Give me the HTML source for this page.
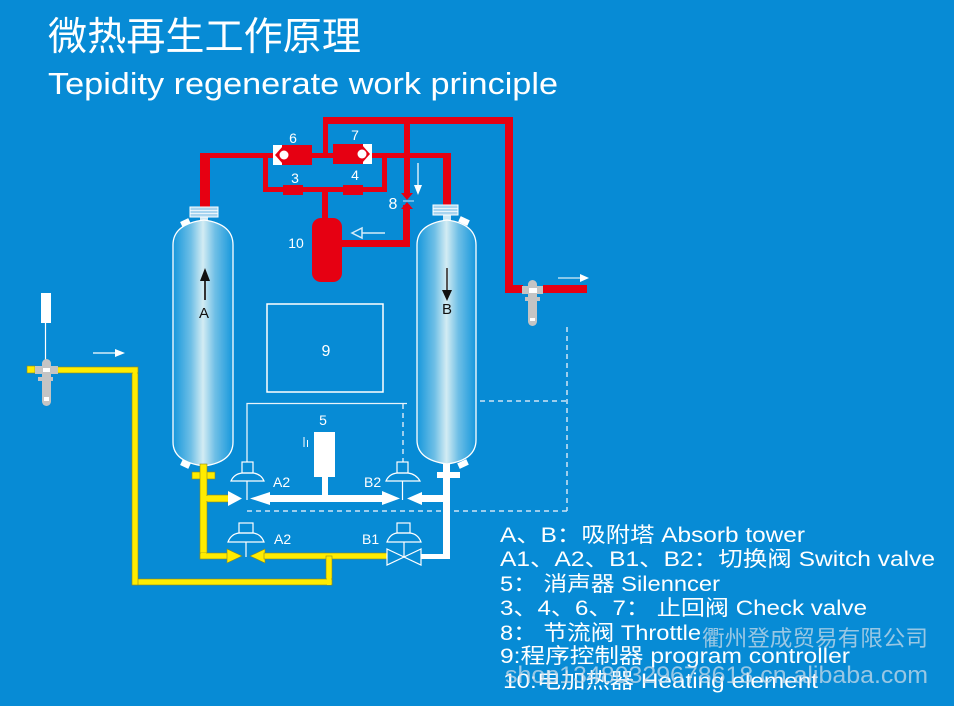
<!DOCTYPE html>
<html><head><meta charset="utf-8">
<style>
html,body{margin:0;padding:0;background:#078bd5;}
svg{display:block;}
text{font-family:"Liberation Sans","Noto Sans CJK SC",sans-serif;}
</style></head>
<body>
<svg width="954" height="706" viewBox="0 0 954 706" xmlns="http://www.w3.org/2000/svg">
<defs>
<linearGradient id="tg" x1="0" y1="0" x2="1" y2="0">
<stop offset="0" stop-color="#1597dc"/>
<stop offset="0.3" stop-color="#6fbfe6"/>
<stop offset="0.5" stop-color="#d3ecf3"/>
<stop offset="0.7" stop-color="#6fbfe6"/>
<stop offset="1" stop-color="#1597dc"/>
</linearGradient>
</defs>
<rect width="954" height="706" fill="#078bd5"/>

<!-- Titles -->
<text x="48" y="50" font-size="39" fill="#fff" textLength="313" lengthAdjust="spacingAndGlyphs">微热再生工作原理</text>
<text x="48" y="94" font-size="31" fill="#fff" textLength="510" lengthAdjust="spacingAndGlyphs">Tepidity regenerate work principle</text>

<!-- Dashed lines -->
<g stroke="#cfe5f5" stroke-width="1.5" stroke-dasharray="5,4" fill="none">
<line x1="247" y1="511" x2="567" y2="511"/>
<line x1="567" y1="327" x2="567" y2="511"/>
<line x1="480" y1="401" x2="567" y2="401"/>
<line x1="403" y1="404" x2="403" y2="462"/>
</g>
<!-- thin white control line -->
<polyline points="247,462 247,403.5 407,403.5" stroke="#e8f4fb" stroke-width="1.3" fill="none"/>

<!-- Controller box 9 -->
<rect x="267" y="304" width="116" height="88" fill="none" stroke="#fff" stroke-width="1.5"/>
<text x="326" y="356" font-size="16" fill="#fff" text-anchor="middle">9</text>

<!-- RED PIPES -->
<g fill="#e60012">
<!-- left riser to tower A -->
<rect x="200" y="153" width="10" height="55"/>
<rect x="200" y="153" width="75" height="5"/>
<!-- between 6 and 7 -->
<rect x="310" y="153" width="25" height="5"/>
<!-- up to top loop -->
<rect x="323" y="118" width="5" height="38"/>
<rect x="323" y="117" width="190" height="7"/>
<rect x="505" y="117" width="8" height="176"/>
<rect x="505" y="285" width="18" height="8"/>
<rect x="543" y="285" width="44" height="8"/>
<!-- right from 7 to tower B -->
<rect x="370" y="153" width="81" height="5"/>
<rect x="443" y="153" width="8" height="53"/>
<!-- inner loop -->
<rect x="263" y="153" width="5" height="39"/>
<rect x="263" y="187" width="124" height="5"/>
<rect x="382" y="153" width="5" height="39"/>
<!-- down from top to throttle -->
<rect x="404" y="120" width="6" height="75"/>
<!-- heater pipe -->
<rect x="322" y="190" width="6" height="30"/>
<rect x="340" y="240" width="70" height="7"/>
<rect x="403" y="205" width="7" height="42"/>
<!-- heater body -->
<rect x="312" y="218" width="30" height="64" rx="9" ry="9"/>
<!-- check valves 3,4 -->
<rect x="283" y="185" width="20" height="10"/>
<rect x="343" y="185" width="20" height="10"/>
<!-- throttle arrows -->
<polygon points="401,193 413,193 407,200"/>
<polygon points="401,209 413,209 407,202"/>
<!-- valve 6 -->
<rect x="273" y="145" width="39" height="20"/>
<!-- valve 7 -->
<rect x="333" y="144" width="39" height="20"/>
</g>
<!-- valve 6 details -->
<rect x="273" y="145" width="9" height="20" fill="#fff"/>
<polygon points="283,146 283,164 275,155" fill="#e60012"/>
<circle cx="284" cy="155" r="4.5" fill="#fff"/>
<!-- valve 7 details -->
<rect x="363" y="144" width="9" height="20" fill="#fff"/>
<polygon points="362,145 362,163 370,154" fill="#e60012"/>
<circle cx="362" cy="154" r="4.5" fill="#fff"/>
<!-- throttle line -->
<line x1="403" y1="201" x2="414" y2="201" stroke="#8fc8ec" stroke-width="1.5"/>

<!-- red labels -->
<g fill="#fff" font-size="14" text-anchor="middle">
<text x="293" y="143">6</text>
<text x="355" y="140">7</text>
<text x="295" y="183">3</text>
<text x="355" y="180">4</text>
<text x="393" y="209" font-size="16">8</text>
<text x="296" y="248">10</text>
</g>
<!-- hollow left arrow near heater -->
<line x1="362" y1="233" x2="385" y2="233" stroke="#d6ecf8" stroke-width="1.5"/>
<polygon points="352,233 362,228 362,238" fill="none" stroke="#d6ecf8" stroke-width="1.5"/>
<!-- down arrow near 8 -->
<line x1="418" y1="163" x2="418" y2="185" stroke="#d6ecf8" stroke-width="1.5"/>
<polygon points="414,185 422,185 418,195" fill="#fff"/>

<!-- TOWER A -->
<rect x="200" y="215" width="8" height="9" fill="#cfe9f5"/>
<rect x="190" y="207" width="28" height="10" fill="#a8d4ef" stroke="#fff" stroke-width="1"/>
<line x1="190" y1="210.5" x2="218" y2="210.5" stroke="#fff" stroke-width="0.8"/>
<line x1="190" y1="213.5" x2="218" y2="213.5" stroke="#fff" stroke-width="0.8"/>
<rect x="181" y="220" width="9" height="6" fill="#fff" transform="rotate(-25 185 223)"/>
<rect x="181" y="461" width="9" height="6" fill="#fff" transform="rotate(25 185 464)"/>
<path d="M173,245 Q173,224 204,220 Q233,224 233,245 V442 Q233,462 204,466 Q173,462 173,442 Z" fill="url(#tg)" stroke="#fff" stroke-width="1.3"/>
<line x1="205" y1="279" x2="205" y2="300" stroke="#333" stroke-width="2"/>
<polygon points="205,268 200,281 210,281" fill="#111"/>
<text x="204" y="318" font-size="15" fill="#111" text-anchor="middle">A</text>

<!-- TOWER B -->
<rect x="443" y="213" width="8" height="10" fill="#cfe9f5"/>
<rect x="433" y="205" width="25" height="10" fill="#a8d4ef" stroke="#fff" stroke-width="1"/>
<line x1="433" y1="208.5" x2="458" y2="208.5" stroke="#fff" stroke-width="0.8"/>
<line x1="433" y1="211.5" x2="458" y2="211.5" stroke="#fff" stroke-width="0.8"/>
<rect x="459" y="218" width="10" height="6" fill="#fff" transform="rotate(25 464 221)"/>
<rect x="458" y="461" width="10" height="6" fill="#fff" transform="rotate(-25 463 464)"/>
<path d="M417,245 Q417,224 447,220 Q476,224 476,245 V440 Q476,460 447,464 Q417,460 417,440 Z" fill="url(#tg)" stroke="#fff" stroke-width="1.3"/>
<line x1="447" y1="268" x2="447" y2="292" stroke="#555" stroke-width="2"/>
<polygon points="442,290 452,290 447,301" fill="#111"/>
<text x="447" y="314" font-size="15" fill="#111" text-anchor="middle">B</text>

<!-- WHITE pipes (right side) -->
<g fill="#fff">
<rect x="437" y="472" width="23" height="6"/>
<rect x="443" y="464" width="7" height="95"/>
<rect x="420" y="495" width="28" height="7"/>
<rect x="421" y="554" width="29" height="5"/>
<rect x="268" y="495" width="116" height="7"/>
<polygon points="250,498.5 270,492 270,505"/>
<polygon points="400,498.5 382,491 382,505"/>
<polygon points="407,498.5 422,492 422,505"/>
<!-- silencer -->
<rect x="314" y="432" width="21" height="45"/>
<rect x="322" y="476" width="6" height="22"/>
</g>
<line x1="304" y1="437" x2="304" y2="447" stroke="#fff" stroke-width="1"/>
<line x1="307.5" y1="440" x2="307.5" y2="447" stroke="#fff" stroke-width="1"/>
<text x="323" y="425" font-size="14" fill="#fff" text-anchor="middle">5</text>

<!-- YELLOW pipes -->
<g fill="#ffec00" stroke="#8a8a20" stroke-width="0.6">
<rect x="192" y="472" width="23" height="7"/>
<rect x="200" y="464" width="7" height="95"/>
<rect x="207" y="495" width="22" height="7"/>
<rect x="200" y="553" width="28" height="6"/>
<polygon points="242,556 227,549 227,563"/>
<polygon points="250,556 265,549 265,563"/>
<rect x="264" y="553" width="123" height="6"/>
<rect x="326" y="556" width="6" height="29"/>
<rect x="132" y="579" width="200" height="6"/>
<rect x="132" y="367" width="6" height="218"/>
<rect x="56" y="367" width="82" height="6"/>
<rect x="27" y="366" width="8" height="7"/>
</g>
<polygon points="242,498.5 228,491 228,506" fill="#fff"/>
<rect x="201" y="553" width="5" height="5" fill="#ffec00"/>
<rect x="201" y="496" width="12" height="5" fill="#ffec00"/>
<rect x="327" y="578" width="4" height="7" fill="#ffec00"/>
<rect x="133" y="368" width="4" height="12" fill="#ffec00"/>

<!-- Valves (outline) -->
<g stroke="#fff" stroke-width="1.2" fill="none">
<!-- A2 top -->
<rect x="242" y="462" width="11" height="11"/>
<path d="M231,481 Q234,474 242,473 L253,473 Q261,474 264,481 Z"/>
<line x1="247" y1="481" x2="247" y2="500"/>
<!-- B2 -->
<rect x="397" y="462" width="11" height="11"/>
<path d="M386,481 Q389,474 397,473 L408,473 Q416,474 420,481 Z"/>
<line x1="402.5" y1="481" x2="402.5" y2="500"/>
<!-- A2 lower -->
<rect x="239" y="523" width="14" height="10"/>
<path d="M228,542 Q231,534 239,533 L253,533 Q261,534 264,542 Z"/>
<line x1="246" y1="542" x2="246" y2="557"/>
<!-- B1 -->
<rect x="397" y="523" width="13" height="10"/>
<path d="M387,542 Q390,534 397,533 L410,533 Q418,534 421,542 Z"/>
<line x1="404" y1="542" x2="404" y2="557"/>
<path d="M387,549 L404,557 L387,565 Z"/>
<path d="M421,549 L404,557 L421,565 Z"/>
</g>
<g fill="#fff" font-size="14">
<text x="273" y="487">A2</text>
<text x="364" y="487">B2</text>
<text x="274" y="544">A2</text>
<text x="362" y="544">B1</text>
</g>

<!-- left gray filter -->
<rect x="41" y="293" width="10" height="30" fill="#fff"/>
<line x1="45.5" y1="323" x2="45.5" y2="362" stroke="#fff" stroke-width="1.2"/>
<g fill="#c4c4c4">
<rect x="42" y="359" width="9" height="47" rx="4.5"/>
<rect x="35" y="366" width="23" height="8"/>
<rect x="38" y="377" width="15" height="4"/>
</g>
<rect x="43" y="368" width="7" height="4" fill="#fff"/>
<rect x="44" y="397" width="5" height="4" fill="#fff"/>
<!-- left arrow -->
<line x1="93" y1="353" x2="116" y2="353" stroke="#fff" stroke-width="1.3"/>
<polygon points="115,349 125,353 115,357" fill="#fff"/>

<!-- right gray filter -->
<g fill="#c4c4c4">
<rect x="528" y="280" width="9" height="46" rx="4.5"/>
<rect x="522" y="286" width="21" height="8"/>
<rect x="525" y="297" width="15" height="4"/>
</g>
<rect x="529" y="288" width="8" height="5" fill="#fff"/>
<rect x="530" y="318" width="5" height="3" fill="#fff"/>
<!-- right arrow -->
<line x1="558" y1="278" x2="581" y2="278" stroke="#d6ecf8" stroke-width="1.3"/>
<polygon points="580,274 589,278 580,282" fill="#fff"/>

<!-- Legend -->
<g fill="#fff" font-size="21">
<text x="500" y="542" textLength="305" lengthAdjust="spacingAndGlyphs">A、B：吸附塔 Absorb tower</text>
<text x="500" y="566" textLength="435" lengthAdjust="spacingAndGlyphs">A1、A2、B1、B2：切换阀 Switch valve</text>
<text x="500" y="591" textLength="220" lengthAdjust="spacingAndGlyphs">5： 消声器 Silenncer</text>
<text x="500" y="615" textLength="367" lengthAdjust="spacingAndGlyphs">3、4、6、7： 止回阀 Check valve</text>
<text x="500" y="640" textLength="201" lengthAdjust="spacingAndGlyphs">8： 节流阀 Throttle</text>
<text x="500" y="663" textLength="350" lengthAdjust="spacingAndGlyphs">9:程序控制器 program controller</text>
<text x="503" y="688" textLength="315" lengthAdjust="spacingAndGlyphs">10:电加热器 Heating element</text>
</g>
<!-- watermark -->
<g fill="#c9dbe8" fill-opacity="0.75">
<text x="702" y="646" font-size="22" textLength="226" lengthAdjust="spacingAndGlyphs">衢州登成贸易有限公司</text>
<text x="505" y="683" font-size="24" textLength="423" lengthAdjust="spacingAndGlyphs">shop13480329678618.cn.alibaba.com</text>
</g>
</svg>
</body></html>
